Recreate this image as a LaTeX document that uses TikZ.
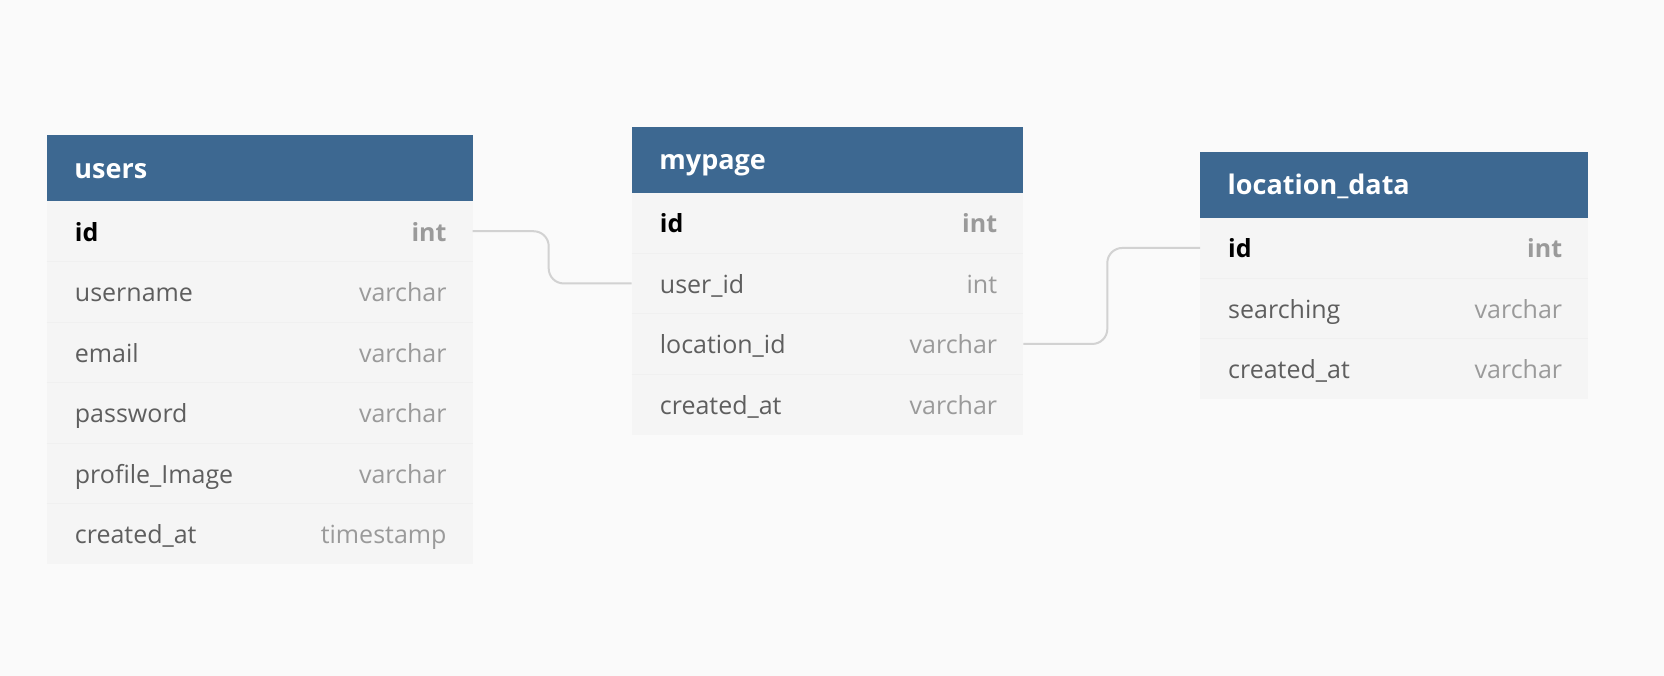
\documentclass[tikz,border=0pt]{standalone}
\usepackage{fontspec}
\setmainfont{Open Sans}
\usetikzlibrary{positioning}

\definecolor{pagebg}{HTML}{FAFAFA}
\definecolor{headblue}{HTML}{3D6891}
\definecolor{rowfill}{HTML}{F5F5F5}
\definecolor{rowline}{HTML}{F0F0F0}
\definecolor{namegrey}{HTML}{5E5E5E}
\definecolor{typegrey}{HTML}{9A9A9A}
\definecolor{linkgrey}{HTML}{D2D2D2}

\tikzset{
  headbox/.style={fill=headblue, inner sep=0pt, outer sep=0pt, minimum height=66pt, anchor=north west},
  rowbox/.style={fill=rowfill, inner sep=0pt, outer sep=0pt, minimum height=60.5pt},
  rowsep/.style={draw=rowline, line width=1pt},
  headtext/.style={text=white, font=\fontsize{27}{30}\selectfont\bfseries, inner sep=0pt, text height=20.5pt, text depth=0pt, anchor=west},
  fieldname/.style={text=namegrey, font=\fontsize{25}{28}\selectfont, inner sep=0pt, text height=20pt, text depth=0pt, anchor=west},
  fieldtype/.style={fieldname, text=typegrey, anchor=east},
  keyname/.style={fieldname, text=black, font=\fontsize{25}{28}\selectfont\bfseries},
  keytype/.style={fieldtype, font=\fontsize{25}{28}\selectfont\bfseries},
  relline/.style={draw=linkgrey, line width=2pt, rounded corners=15pt}
}

\begin{document}
\begin{tikzpicture}[x=1pt, y=-1pt]

% Background
\fill[pagebg] ( 0, 0 ) rectangle ( 1664, 676 );
\useasboundingbox ( 0, 0 ) rectangle ( 1664, 676 );

% users
\node[headbox, minimum width=426pt] (users-r0) at ( 46.7, 135 ) {};
\node[headtext] (users-title) at ([xshift=27.5pt]users-r0.west) {users};
\node[rowbox, minimum width=426pt, below=0pt of users-r0] (users-r1) {};
\node[keyname] (users-n1) at ([xshift=28pt]users-r1.west) {id};
\node[keytype] (users-t1) at ([xshift=-26pt]users-r1.east) {int};
\foreach \name/\type [count=\i from 2] in {username/varchar, email/varchar, password/varchar, profile\_Image/varchar, created\_at/timestamp} {
  \pgfmathtruncatemacro{\j}{\i-1}
  \node[rowbox, minimum width=426pt, below=0pt of users-r\j] (users-r\i) {};
  \draw[rowsep] (users-r\i.north west) -- (users-r\i.north east);
  \node[fieldname] (users-n\i) at ([xshift=28pt]users-r\i.west) {\name};
  \node[fieldtype] (users-t\i) at ([xshift=-26pt]users-r\i.east) {\type};
}

% mypage
\node[headbox, minimum width=391.6pt] (mypage-r0) at ( 631.7, 126.7 ) {};
\node[headtext] (mypage-title) at ([xshift=27.5pt]mypage-r0.west) {mypage};
\node[rowbox, minimum width=391.6pt, below=0pt of mypage-r0] (mypage-r1) {};
\node[keyname] (mypage-n1) at ([xshift=28pt]mypage-r1.west) {id};
\node[keytype] (mypage-t1) at ([xshift=-26pt]mypage-r1.east) {int};
\foreach \name/\type [count=\i from 2] in {user\_id/int, location\_id/varchar, created\_at/varchar} {
  \pgfmathtruncatemacro{\j}{\i-1}
  \node[rowbox, minimum width=391.6pt, below=0pt of mypage-r\j] (mypage-r\i) {};
  \draw[rowsep] (mypage-r\i.north west) -- (mypage-r\i.north east);
  \node[fieldname] (mypage-n\i) at ([xshift=28pt]mypage-r\i.west) {\name};
  \node[fieldtype] (mypage-t\i) at ([xshift=-26pt]mypage-r\i.east) {\type};
}

% location_data
\node[headbox, minimum width=388.3pt] (location-r0) at ( 1200, 151.7 ) {};
\node[headtext] (location-title) at ([xshift=27.5pt]location-r0.west) {location\_data};
\node[rowbox, minimum width=388.3pt, below=0pt of location-r0] (location-r1) {};
\node[keyname] (location-n1) at ([xshift=28pt]location-r1.west) {id};
\node[keytype] (location-t1) at ([xshift=-26pt]location-r1.east) {int};
\foreach \name/\type [count=\i from 2] in {searching/varchar, created\_at/varchar} {
  \pgfmathtruncatemacro{\j}{\i-1}
  \node[rowbox, minimum width=388.3pt, below=0pt of location-r\j] (location-r\i) {};
  \draw[rowsep] (location-r\i.north west) -- (location-r\i.north east);
  \node[fieldname] (location-n\i) at ([xshift=28pt]location-r\i.west) {\name};
  \node[fieldtype] (location-t\i) at ([xshift=-26pt]location-r\i.east) {\type};
}

% Relations
\draw[relline] (users-r1.east) -- ++( 76, 0 ) |- (mypage-r2.west);
\draw[relline] (mypage-r3.east) -- ++( 84, 0 ) |- (location-r1.west);

\end{tikzpicture}
\end{document}
